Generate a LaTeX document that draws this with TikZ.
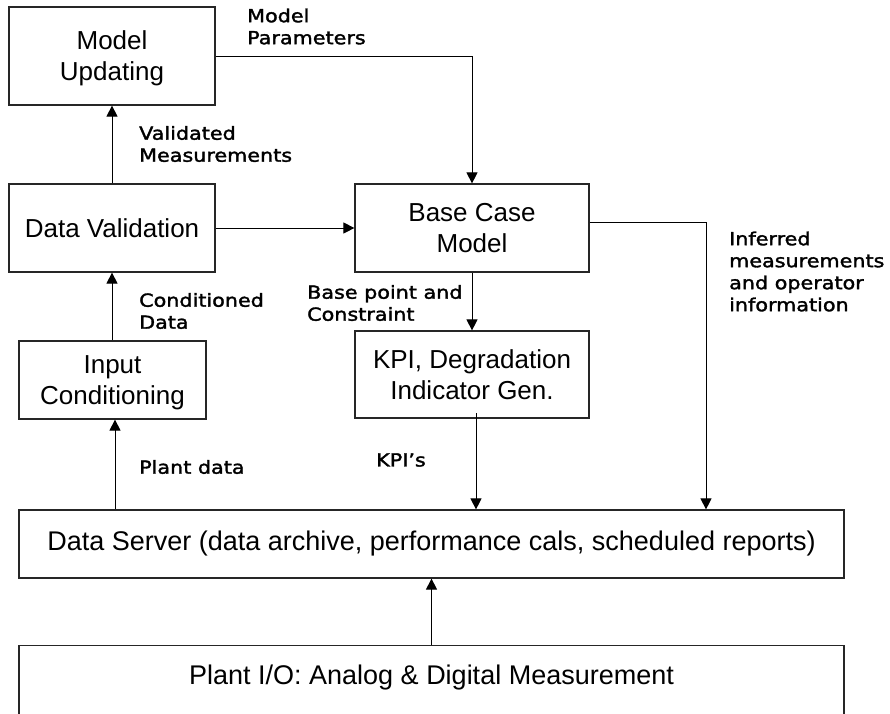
\documentclass[tikz,border=0pt]{standalone}
\usepackage{fontspec}
\setmainfont{Liberation Sans}
\newfontfamily\lblfont[FakeStretch=1.15,FakeBold=1.8]{DejaVu Sans}
\usetikzlibrary{arrows.meta}
\begin{document}
\begin{tikzpicture}[x=1pt,y=-1pt,
  box/.style={draw=black!85, line width=1.2pt, inner sep=0pt, align=center,
    font=\fontsize{26}{31}\selectfont},
  mbox/.style={box, text depth=0pt},
  bigbox/.style={box, font=\fontsize{27}{31}\selectfont},
  lbl/.style={anchor=west, align=left, inner sep=0pt,
    font=\lblfont\fontsize{18}{22}\selectfont},
  conn/.style={line width=0.9pt, -{Triangle[length=11pt,width=11pt]}},
]
\useasboundingbox (0,0) rectangle (890,713);
\clip (0,0) rectangle (890,713);

% boxes
\node[mbox, minimum width=206pt, minimum height=98pt] (mu) at (112,56) {Model\\Updating};
\node[box, minimum width=206pt, minimum height=88pt] (dv) at (112,228) {Data Validation};
\node[mbox, minimum width=187pt, minimum height=78pt] (ic) at (112.5,380) {Input\\Conditioning};
\node[box, minimum width=234pt, minimum height=88pt] (bc) at (472,228) {Base Case\\Model};
\node[mbox, minimum width=234pt, minimum height=87pt] (kpi) at (472,374.5) {KPI, Degradation\\Indicator Gen.};
\node[bigbox, minimum width=825pt, minimum height=68pt] (ds) at (431.5,544)
  {Data Server (data archive, performance cals, scheduled reports)};
\node[bigbox, minimum width=825pt, minimum height=120pt, anchor=north] (plant) at (431.5,645) {};
\node[inner sep=0pt, font=\fontsize{27}{31}\selectfont] (planttext) at (431.5,678)
  {Plant I/O: Analog \& Digital Measurement};

% labels
\node[lbl] (lmp) at (247,26.5) {Model\\Parameters};
\node[lbl] (lvm) at (139,144) {Validated\\Measurements};
\node[lbl] (lcd) at (139,311) {Conditioned\\Data};
\node[lbl] (lpd) at (139,467) {Plant data};
\node[lbl] (lbp) at (307,303) {Base point and\\Constraint};
\node[lbl] (lkpi) at (376,460) {KPI’s};
\node[lbl] (linf) at (729,271.5) {Inferred\\measurements\\and operator\\information};

% helper coordinates
\coordinate (pd) at (115,0);
\coordinate (kx) at (476,413);
\coordinate (ir) at (706,222);

% connectors
\draw[conn] (dv) -- (mu);
\draw[conn] (ic.north -| dv.south) -- (dv.south);
\draw[conn] (ds.north -| pd) -- (ic.south -| pd);
\draw[conn] (dv) -- (bc);
\draw[conn] (mu.east) -- (mu.east -| bc.north) -- (bc.north);
\draw[conn] (bc) -- (kpi);
\draw[conn] (kx) -- (kx |- ds.north);
\draw[conn] (bc.east |- ir) -- (ir) -- (ir |- ds.north);
\draw[conn] (plant.north) -- (ds.south);
\end{tikzpicture}
\end{document}
